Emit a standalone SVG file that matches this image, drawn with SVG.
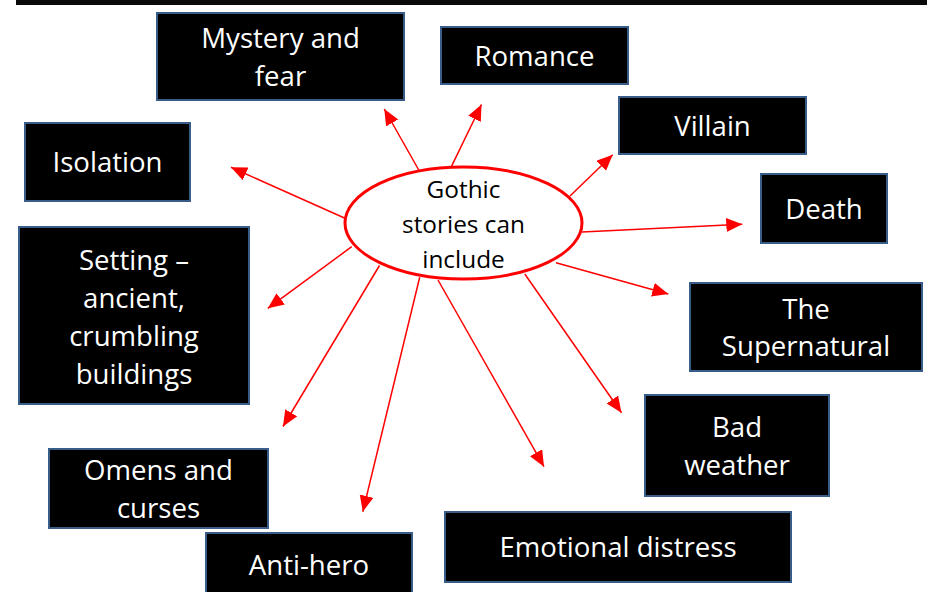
<svg xmlns="http://www.w3.org/2000/svg" width="927" height="592" viewBox="0 0 927 592">
<style>
.box rect{fill:#000;stroke:#385D8A;stroke-width:2}
.box text{fill:#fff;font-family:"Open Sans","Liberation Sans",sans-serif;font-size:27.6px;text-anchor:middle}
.center text{fill:#000;font-family:"Open Sans","Liberation Sans",sans-serif;font-size:24.4px;text-anchor:middle}
#connectors line{stroke:#FF0000;stroke-width:1.5;marker-end:url(#arrow)}
</style>
<defs>
<marker id="arrow" markerUnits="userSpaceOnUse" markerWidth="17" markerHeight="15" refX="16" refY="7" orient="auto">
<path d="M0,0 L16,7 L0,14 z" fill="#FF0000"/>
</marker>
</defs>
<rect x="0" y="0" width="927" height="592" fill="#fff"/>
<rect x="16" y="-2" width="913" height="7" fill="#0a0a0a"/>
<g id="connectors">
<line x1="419.3" y1="171" x2="384.3" y2="109"/>
<line x1="451" y1="167.3" x2="481.5" y2="104.5"/>
<line x1="570" y1="196" x2="612.7" y2="154.7"/>
<line x1="582" y1="232" x2="742.3" y2="224.3"/>
<line x1="556" y1="262.7" x2="668.3" y2="294"/>
<line x1="524.8" y1="274" x2="621.5" y2="412.7"/>
<line x1="438" y1="280" x2="544" y2="466.7"/>
<line x1="419.7" y1="277.3" x2="362.8" y2="511.7"/>
<line x1="379.5" y1="265.5" x2="283" y2="426.5"/>
<line x1="351.7" y1="246.7" x2="267.8" y2="308.3"/>
<line x1="345" y1="218.3" x2="231" y2="167.3"/>
</g>
<g id="center" class="center">
<ellipse cx="463.5" cy="223" rx="118.5" ry="56" fill="#fff" stroke="#FF0000" stroke-width="3"/>
<text x="463.5" y="198">Gothic</text>
<text x="463.5" y="233">stories can</text>
<text x="463.5" y="268">include</text>
</g>
<g id="mystery" class="box">
<rect x="157" y="13" width="247" height="87"/>
<text x="280.5" y="47.5">Mystery and</text>
<text x="280.5" y="85.5">fear</text>
</g>
<g id="romance" class="box">
<rect x="441" y="27" width="187" height="57"/>
<text x="534.5" y="65.5">Romance</text>
</g>
<g id="villain" class="box">
<rect x="619" y="97" width="187" height="57"/>
<text x="712.5" y="135.5">Villain</text>
</g>
<g id="death" class="box">
<rect x="761" y="174" width="126" height="69"/>
<text x="824" y="218.5">Death</text>
</g>
<g id="supernatural" class="box">
<rect x="690" y="283" width="232" height="88"/>
<text x="806" y="318.5">The</text>
<text x="806" y="356">Supernatural</text>
</g>
<g id="weather" class="box">
<rect x="645" y="395" width="184" height="101"/>
<text x="737" y="436.5">Bad</text>
<text x="737" y="475">weather</text>
</g>
<g id="distress" class="box">
<rect x="445" y="512" width="346" height="70"/>
<text x="618" y="557">Emotional distress</text>
</g>
<g id="antihero" class="box">
<rect x="206" y="533" width="206" height="70"/>
<text x="309" y="575">Anti-hero</text>
</g>
<g id="omens" class="box">
<rect x="49" y="449" width="219" height="79"/>
<text x="158.5" y="479.5">Omens and</text>
<text x="158.5" y="518">curses</text>
</g>
<g id="setting" class="box">
<rect x="19" y="227" width="230" height="177"/>
<text x="134" y="269.5">Setting –</text>
<text x="134" y="307.5">ancient,</text>
<text x="134" y="345.5">crumbling</text>
<text x="134" y="383.5">buildings</text>
</g>
<g id="isolation" class="box">
<rect x="25" y="123" width="165" height="78"/>
<text x="107.5" y="172">Isolation</text>
</g>
</svg>
